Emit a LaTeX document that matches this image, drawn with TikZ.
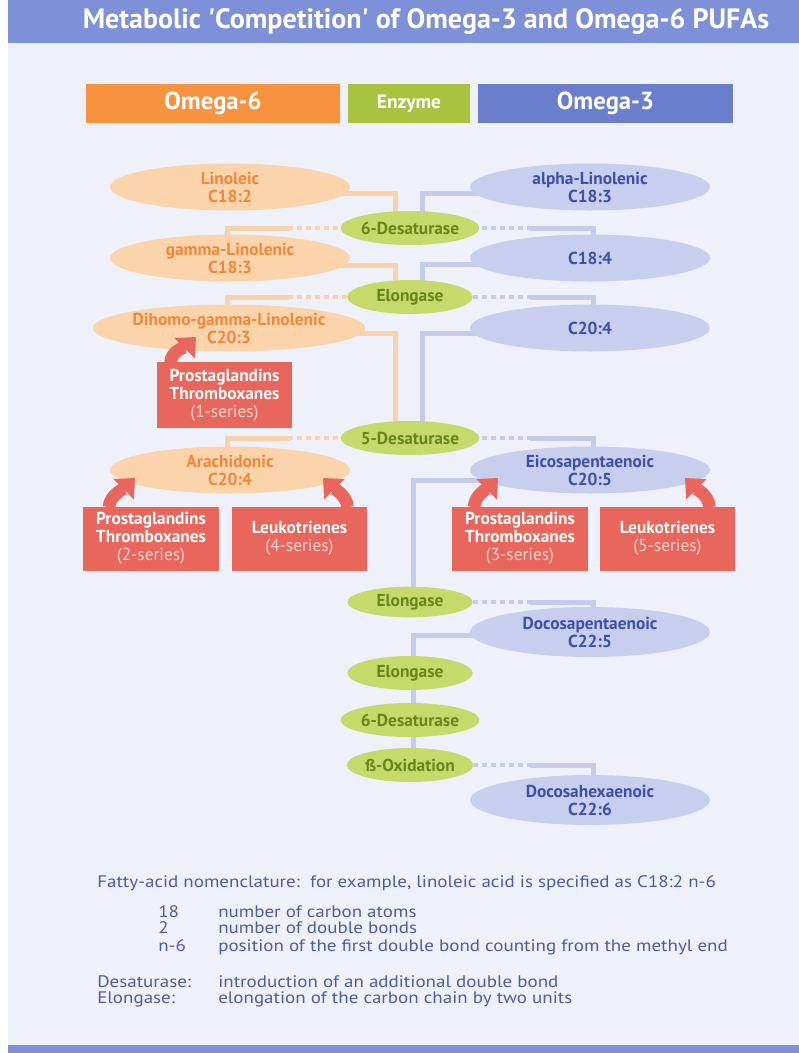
\documentclass[tikz,border=0pt]{standalone}
\usepackage{fontspec}
\setmainfont{PT Sans}
\newfontfamily\footfont[FakeStretch=1.14]{PT Sans}
\usetikzlibrary{shapes.geometric,arrows.meta,calc}
\definecolor{bgc}{HTML}{EFF1FA}
\definecolor{barc}{HTML}{7D90D8}
\definecolor{hdro}{HTML}{F7923F}
\definecolor{hdrg}{HTML}{A9C23F}
\definecolor{hdrb}{HTML}{6A7ECC}
\definecolor{ofill}{HTML}{FBD4AB}
\definecolor{otext}{HTML}{F0883C}
\definecolor{bfill}{HTML}{C8CFEE}
\definecolor{btext}{HTML}{3E4FA8}
\definecolor{gfill}{HTML}{C6DA6C}
\definecolor{gtext}{HTML}{66861C}
\definecolor{redc}{HTML}{E8665B}
\definecolor{serc}{HTML}{FAD6D1}
\definecolor{olinec}{HTML}{F9D2AC}
\definecolor{blinec}{HTML}{C5CCEB}
\definecolor{foot}{HTML}{4B5BA5}
\pgfdeclarelayer{back}
\pgfdeclarelayer{bg}
\pgfsetlayers{back,bg,main}
\tikzset{
  o6/.style={ellipse, fill=ofill, text=otext, font=\bfseries\fontsize{13}{13.5}\selectfont, align=center, minimum width=180pt, minimum height=35.25pt, inner sep=0pt},
  o3/.style={ellipse, fill=bfill, text=btext, font=\bfseries\fontsize{13}{13.5}\selectfont, align=center, minimum width=180pt, minimum height=35.25pt, inner sep=0pt},
  enz/.style={ellipse, fill=gfill, text=gtext, font=\bfseries\fontsize{13}{14}\selectfont, minimum width=94pt, minimum height=25.5pt, inner sep=0pt},
  redbox/.style={rectangle, fill=redc, text=white, font=\fontsize{13}{13.5}\selectfont, align=center, minimum width=101.5pt, minimum height=48pt, inner sep=0pt},
  hdr/.style={rectangle, text=white, font=\bfseries\fontsize{18.5}{20}\selectfont, minimum height=29.25pt, inner sep=0pt},
  oline/.style={draw=olinec, line width=3.75pt},
  odot/.style={draw=olinec, line width=3pt, dash pattern=on 3.5pt off 3.25pt},
  bline/.style={draw=blinec, line width=3.75pt},
  bdot/.style={draw=blinec, line width=3pt, dash pattern=on 3.5pt off 3.25pt},
  redarr/.style={draw=redc, line width=9.5pt, -{Triangle[width=21pt,length=12pt]}},
  foottext/.style={text=foot, font=\footfont\fontsize{12.5}{13}\selectfont, anchor=base west, inner sep=0pt},
}
\begin{document}
\begin{tikzpicture}[x=0.75pt,y=-0.75pt]
\useasboundingbox (0,0) rectangle (799,1053);
\begin{pgfonlayer}{back}
\fill[white] (0,0) rectangle (799,1053);
\fill[bgc] (8,0) rectangle (799,1053);
\fill[barc] (8,0) rectangle (799,43);
\fill[barc] (8,1045) rectangle (799,1053);
\end{pgfonlayer}
\node[text=white, font=\bfseries\fontsize{21}{23}\selectfont, inner sep=0pt] (title) at (426,21) {Metabolic \textquotesingle Competition\textquotesingle\ of Omega-3 and Omega-6 PUFAs};

% header
\node[hdr, fill=hdro, minimum width=190.5pt] (h6) at (213,103.5) {Omega-6};
\node[hdr, fill=hdrg, minimum width=91.5pt, font=\bfseries\fontsize{14.5}{16}\selectfont] (he) at (409,103.5) {Enzyme};
\node[hdr, fill=hdrb, minimum width=191.25pt] (h3) at (605.5,103.5) {Omega-3};

% omega-6 column
\node[o6] (lin) at (230,187) {Linoleic\\C18:2};
\node[o6] (gla) at (230,258) {gamma-Linolenic\\C18:3};
\node[o6] (dgl) at (229,328) {Dihomo-gamma-Linolenic\\C20:3};
\node[o6] (ara) at (230,470) {Arachidonic\\C20:4};

% omega-3 column
\node[o3] (ala) at (590,187) {alpha-Linolenic\\C18:3};
\node[o3] (c184) at (590,258) {C18:4};
\node[o3] (c204) at (590,328) {C20:4};
\node[o3] (epa) at (590,470) {Eicosapentaenoic\\C20:5};
\node[o3, minimum height=37.5pt] (dpa) at (590,632) {Docosapentaenoic\\C22:5};
\node[o3, minimum height=37.5pt] (dha) at (590,800) {Docosahexaenoic\\C22:6};

% enzymes
\node[enz] (d6a) at (410,228) {6-Desaturase};
\node[enz] (el1) at (410,297) {Elongase};
\node[enz] (d5) at (410,438) {5-Desaturase};
\node[enz, minimum height=23pt] (el2) at (410,602) {Elongase};
\node[enz] (el3) at (410,673) {Elongase};
\node[enz] (d6b) at (410,720) {6-Desaturase};
\node[enz] (box) at (410,765) {ß-Oxidation};

% break points of the product connectors
\coordinate (oL) at (290,0);
\coordinate (oR) at (530,0);

\begin{pgfonlayer}{bg}
% omega-6 connectors
\draw[oline] ($(lin.center)+(0,6)$) -| ($(d6a.center)+(-15,0)$);
\draw[odot] (d6a.center) -- (d6a.center -| oL);
\draw[oline] (d6a.center -| oL) -| ($(gla.center)+(-3,0)$);
\draw[oline] ($(gla.center)+(0,7)$) -| ($(el1.center)+(-15,0)$);
\draw[odot] (el1.center) -- (el1.center -| oL);
\draw[oline] (el1.center -| oL) -| ($(dgl.center)+(-2,0)$);
\draw[oline] ($(dgl.center)+(0,5)$) -| ($(d5.center)+(-15,0)$);
\draw[odot] (d5.center) -- (d5.center -| oL);
\draw[oline] (d5.center -| oL) -| ($(ara.center)+(-3,0)$);
% omega-3 connectors
\draw[bline] ($(ala.center)+(0,6)$) -| ($(d6a.center)+(12,0)$);
\draw[bdot] (d6a.center) -- (d6a.center -| oR);
\draw[bline] (d6a.center -| oR) -| ($(c184.center)+(3,0)$);
\draw[bline] ($(c184.center)+(0,6)$) -| ($(el1.center)+(12,0)$);
\draw[bdot] (el1.center) -- (el1.center -| oR);
\draw[bline] (el1.center -| oR) -| ($(c204.center)+(3,0)$);
\draw[bline] ($(c204.center)+(0,5)$) -| ($(d5.center)+(12,0)$);
\draw[bdot] (d5.center) -- (d5.center -| oR);
\draw[bline] (d5.center -| oR) -| ($(epa.center)+(3,0)$);
\draw[bline] ($(epa.center)+(0,10)$) -| ($(el2.center)+(3,0)$);
\draw[bdot] (el2.center) -- (el2.center -| oR);
\draw[bline] (el2.center -| oR) -| ($(dpa.center)+(3,0)$);
\draw[bline] ($(dpa.center)+(0,3)$) -| ($(el3.center)+(3,0)$);
\draw[bline] ($(el3.center)+(3,0)$) -- ($(d6b.center)+(3,0)$);
\draw[bline] ($(d6b.center)+(3,0)$) -- ($(box.center)+(3,0)$);
\draw[bdot] (box.center) -- (box.center -| oR);
\draw[bline] (box.center -| oR) -| ($(dha.center)+(3,0)$);
\end{pgfonlayer}

% eicosanoid boxes
\node[redbox, minimum height=49.5pt] (pt1) at (224.5,395) {\textbf{Prostaglandins}\\\textbf{Thromboxanes}\\\textcolor{serc}{(1-series)}};
\node[redbox] (pt2) at (151,538.5) {\textbf{Prostaglandins}\\\textbf{Thromboxanes}\\\textcolor{serc}{(2-series)}};
\node[redbox] (lk4) at (299.5,538.5) {\textbf{Leukotrienes}\\\textcolor{serc}{(4-series)}};
\node[redbox] (pt3) at (520,538.5) {\textbf{Prostaglandins}\\\textbf{Thromboxanes}\\\textcolor{serc}{(3-series)}};
\node[redbox] (lk5) at (667.5,538.5) {\textbf{Leukotrienes}\\\textcolor{serc}{(5-series)}};

\draw[redarr] ($(pt1.north west)+(14,1)$) .. controls +(0,-12) and +(-9,9) .. ($(dgl.center)+(-33,9)$);
\draw[redarr] ($(pt2.north west)+(26,1)$) .. controls +(0,-12) and +(-9,9) .. ($(ara.center)+(-95,8)$);
\draw[redarr] ($(lk4.north east)+(-20,1)$) .. controls +(0,-12) and +(9,9) .. ($(ara.center)+(93,8)$);
\draw[redarr] ($(pt3.north west)+(22,1)$) .. controls +(0,-12) and +(-9,9) .. ($(epa.center)+(-92,8)$);
\draw[redarr] ($(lk5.north east)+(-26,1)$) .. controls +(0,-12) and +(9,9) .. ($(epa.center)+(95,8)$);

% footer
\node[foottext] (f0) at (97,887) {Fatty-acid nomenclature:\ \ for example, linoleic acid is specified as C18:2 n-6};
\node[foottext] (f1a) at (158,917) {18};
\node[foottext] (f1b) at (218,917) {number of carbon atoms};
\node[foottext] (f2a) at (158,933) {2};
\node[foottext] (f2b) at (218,933) {number of double bonds};
\node[foottext] (f3a) at (158,951) {n-6};
\node[foottext] (f3b) at (218,951) {position of the first double bond counting from the methyl end};
\node[foottext] (f4a) at (97,987) {Desaturase:};
\node[foottext] (f4b) at (218,987) {introduction of an additional double bond};
\node[foottext] (f5a) at (97,1003) {Elongase:};
\node[foottext] (f5b) at (218,1003) {elongation of the carbon chain by two units};
\end{tikzpicture}
\end{document}
